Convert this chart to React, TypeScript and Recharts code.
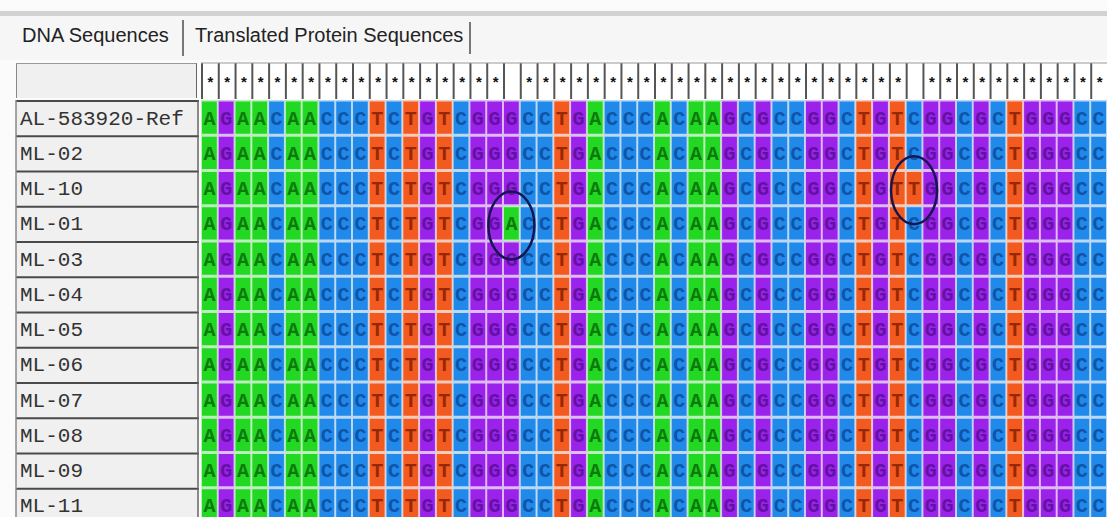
import React from 'react';
import { ScatterChart, Scatter, XAxis, YAxis } from 'recharts';

// alignment data
const sampleNames = [
  'AL-583920-Ref', 'ML-02', 'ML-10', 'ML-01', 'ML-03', 'ML-04',
  'ML-05', 'ML-06', 'ML-07', 'ML-08', 'ML-09', 'ML-11',
];
const referenceSeq = 'AGAACAACCCTCTGTCGGGCCTGACCCACAAGCGCCGGCTGTCGGCGCTGGGCC';
const variants = [
  { sample: 'ML-01', pos: 18, base: 'A' },
  { sample: 'ML-10', pos: 42, base: 'T' },
];
const tabLabels = ['DNA Sequences', 'Translated Protein Sequences'];

const W = 1107;
const H = 517;
const CHART_H = 523;
const LEFT = 201;
const TOP = 100;
const COLS = referenceSeq.length;
const CELL_W = (W - LEFT) / COLS;
const ROW_H = (CHART_H - TOP) / sampleNames.length;

const BASE_COLORS: Record<string, { fill: string; text: string }> = {
  A: { fill: '#22d822', text: '#0b6a0b' },
  C: { fill: '#2089ea', text: '#0d4c9c' },
  G: { fill: '#9a22ea', text: '#5a0f96' },
  T: { fill: '#f25a20', text: '#862000' },
};

const variablePos = new Set(variants.map((v) => v.pos));

const cells = sampleNames.flatMap((name, r) =>
  referenceSeq.split('').map((b, c) => {
    const v = variants.find((m) => m.sample === name && m.pos === c);
    return { x: c + 0.5, y: r + 0.5, base: v ? v.base : b };
  }),
);

const marks = variants.map((v) => ({
  x: v.pos + 0.5,
  y: sampleNames.indexOf(v.sample) + 0.5,
}));

const colTicks = referenceSeq.split('').map((_, i) => i + 0.5);
const rowTicks = sampleNames.map((_, i) => i + 0.5);

const CellShape = (props: any) => {
  const { cx, cy, payload } = props;
  const c = BASE_COLORS[payload.base];
  const x0 = cx - CELL_W / 2;
  const y0 = cy - ROW_H / 2;
  return (
    <g>
      <rect x={x0} y={y0} width={CELL_W} height={ROW_H} fill={c.fill} opacity={0.3} />
      <rect x={x0 + 1} y={y0 + 1.5} width={CELL_W - 2} height={ROW_H - 3} fill={c.fill} />
      <text
        x={cx}
        y={cy + 7}
        textAnchor="middle"
        fontFamily="'Liberation Mono', monospace"
        fontWeight="bold"
        fontSize={20}
        fill={c.text}
        opacity={0.85}
      >
        {payload.base}
      </text>
    </g>
  );
};

const MarkShape = (props: any) => {
  const { cx, cy } = props;
  return <ellipse cx={cx} cy={cy + 2} rx={23} ry={34} fill="none" stroke="#15154f" strokeWidth={2.5} />;
};

const HeaderTick = (props: any) => {
  const { x, y, payload } = props;
  const pos = Math.floor(payload.value);
  const x0 = x - CELL_W / 2;
  return (
    <g>
      <rect x={x0} y={y - 37} width={CELL_W} height={36} fill="#ffffff" />
      <line x1={x0 + 1} x2={x0 + 1} y1={y - 37} y2={y - 1} stroke="#555" strokeWidth={2} />
      <line x1={x0} x2={x0 + CELL_W} y1={y - 37} y2={y - 37} stroke="#999" strokeWidth={1} />
      {!variablePos.has(pos) && (
        <text x={x + 1} y={y - 13} textAnchor="middle" fontSize={15} fontWeight="bold" fill="#111"
          fontFamily="'Liberation Sans', sans-serif">
          *
        </text>
      )}
    </g>
  );
};

const NameTick = (props: any) => {
  const { x, y, payload } = props;
  const name = sampleNames[Math.floor(payload.value)];
  const top = y - ROW_H / 2;
  return (
    <g>
      <rect x={x - 185} y={top} width={182} height={ROW_H} fill="#f0f0f0" />
      <line x1={x - 185} x2={x - 2} y1={top + 1} y2={top + 1} stroke="#4a4a4a" strokeWidth={2} />
      <line x1={x - 185} x2={x - 185} y1={top} y2={top + ROW_H} stroke="#888" strokeWidth={1.5} />
      <line x1={x - 3} x2={x - 3} y1={top} y2={top + ROW_H} stroke="#666" strokeWidth={1.5} />
      <text x={x - 181} y={y + 7} fontFamily="'Liberation Mono', monospace" fontSize={21} fill="#333">
        {name}
      </text>
    </g>
  );
};

export default function App() {
  return (
    <div style={{ position: 'absolute', left: 0, top: 0, width: W, height: H, overflow: 'hidden', background: '#fbfbfb' }}>
      <div style={{ position: 'absolute', left: 0, top: 11, width: W, height: 5, background: '#d2d2d2' }} />
      <div style={{ position: 'absolute', left: 0, top: 16, width: W, height: 44, background: '#f6f6f6' }} />
      <div style={{ position: 'absolute', left: 22, top: 24, fontFamily: "'Liberation Sans', sans-serif", fontSize: 20, color: '#222' }}>
        {tabLabels[0]}
      </div>
      <div style={{ position: 'absolute', left: 182, top: 20, width: 2, height: 36, background: '#777' }} />
      <div style={{ position: 'absolute', left: 195, top: 24, fontFamily: "'Liberation Sans', sans-serif", fontSize: 20, color: '#222' }}>
        {tabLabels[1]}
      </div>
      <div style={{ position: 'absolute', left: 469, top: 22, width: 2, height: 32, background: '#777' }} />
      <div style={{ position: 'absolute', left: 16, top: 63, width: 181, height: 35, background: '#f0f0f0', borderTop: '1px solid #999', borderLeft: '1.5px solid #888', borderRight: '1.5px solid #666', boxSizing: 'border-box' }} />
      <div style={{ position: 'absolute', left: 0, top: 0 }}>
        <ScatterChart width={W} height={CHART_H} margin={{ top: 62, right: 0, bottom: 0, left: 15 }}>
          <XAxis
            type="number"
            dataKey="x"
            orientation="top"
            domain={[0, COLS]}
            ticks={colTicks}
            interval={0}
            height={38}
            tickSize={0}
            tickMargin={0}
            axisLine={false}
            tickLine={false}
            tick={<HeaderTick />}
          />
          <YAxis
            type="number"
            dataKey="y"
            domain={[0, sampleNames.length]}
            reversed
            ticks={rowTicks}
            interval={0}
            width={186}
            tickSize={0}
            tickMargin={0}
            axisLine={false}
            tickLine={false}
            tick={<NameTick />}
          />
          <Scatter data={cells} shape={<CellShape />} isAnimationActive={false} />
          <Scatter data={marks} shape={<MarkShape />} isAnimationActive={false} />
        </ScatterChart>
      </div>
    </div>
  );
}
